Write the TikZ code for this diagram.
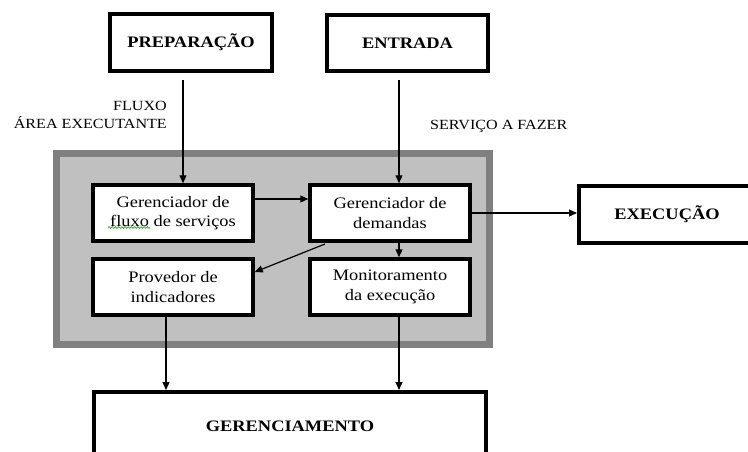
\documentclass[tikz,border=0pt]{standalone}
\usepackage{fontspec}
\setmainfont{Liberation Serif}[FakeStretch=1.15]
\usetikzlibrary{arrows.meta,decorations.pathmorphing}
\definecolor{areadark}{HTML}{808080}
\definecolor{arealight}{HTML}{C0C0C0}
\definecolor{spellgreen}{HTML}{3A9A3A}
\begin{document}
\begin{tikzpicture}[x=1pt,y=-1pt,
  bigbox/.style={draw=black, line width=4pt, fill=white, inner sep=0pt,
    font=\fontsize{16}{19}\selectfont\bfseries},
  innerbox/.style={draw=black, line width=3.5pt, fill=white, inner sep=0pt,
    minimum width=160pt, minimum height=56pt, align=center,
    font=\fontsize{16}{19.5}\selectfont},
  lbl/.style={inner sep=0pt, font=\fontsize{14}{18}\selectfont},
  arr/.style={line width=1.2pt, -{Triangle[length=8pt,width=7pt]}}]
\clip (0,0) rectangle (748,451);
\fill[white] (0,0) rectangle (748,451);
% grey area
\draw[line width=6.5pt, draw=areadark, fill=arealight] (56.5,153.5) rectangle (489.5,344.5);
% top boxes
\node[bigbox, minimum width=162pt, minimum height=57pt] (prep) at (191,42.5) {PREPARAÇÃO};
\node[bigbox, minimum width=161pt, minimum height=56pt] (entr) at (407.5,43) {ENTRADA};
% inner boxes
\node[innerbox] (flux) at (173,213) {Gerenciador de\\fluxo de serviços};
\node[innerbox] (dem) at (390,213) {Gerenciador de\\demandas};
\node[innerbox] (prov) at (173,287) {Provedor de\\indicadores};
\node[innerbox] (mon) at (390,287) {Monitoramento\\da execução};
% right and bottom boxes
\node[bigbox, minimum width=176pt, minimum height=57pt] (exec) at (667,214.5) {EXECUÇÃO};
\node[bigbox, minimum width=392pt, minimum height=68pt] (ger) at (290,426) {GERENCIAMENTO};
% labels
\node[lbl, anchor=base east] (lfluxo) at (167,110) {FLUXO};
\node[lbl, anchor=base east] (larea) at (167,128) {ÁREA EXECUTANTE};
\node[lbl, anchor=base west] (lserv) at (430,129) {SERVIÇO A FAZER};
% spell-check underline
\draw[spellgreen, line width=0.7pt, decorate,
  decoration={snake, amplitude=0.9pt, segment length=3.2pt}] (108,227.5) -- (150,227.5);
% connectors
\coordinate (p1) at (183,80);
\coordinate (e1) at (399,80);
\draw[arr] (p1) -- (p1 |- flux.north);
\draw[arr] (e1) -- (e1 |- dem.north);
\coordinate (f1) at (255,199);
\draw[arr] (flux.east |- f1) -- (dem.west |- f1);
\draw[arr] (dem.east) -- (dem.east -| exec.west);
\coordinate (d1) at (399,243);
\draw[arr] (d1) -- (d1 |- mon.north);
\coordinate (d2) at (325,244);
\coordinate (pv) at (257,272);
\draw[arr] (d2) -- (prov.east |- pv);
\coordinate (b1) at (166,317);
\draw[arr] (b1) -- (b1 |- ger.north);
\coordinate (b2) at (399,317);
\draw[arr] (b2) -- (b2 |- ger.north);
\end{tikzpicture}
\end{document}
